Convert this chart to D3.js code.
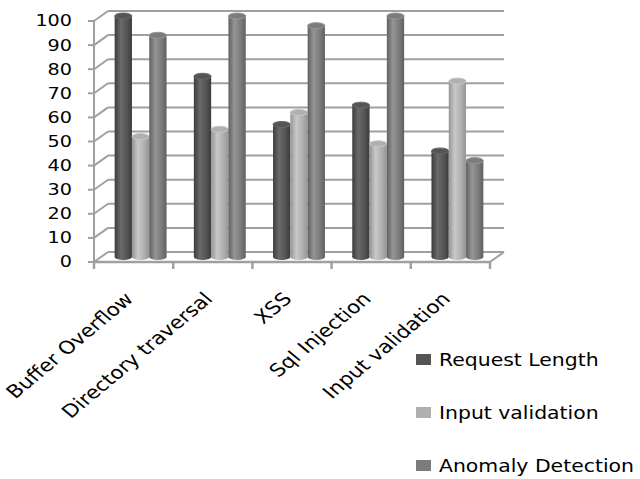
<!DOCTYPE html>
<html>
<head>
<meta charset="utf-8">
<script src="https://cdn.jsdelivr.net/npm/d3@7"></script>
<style>
  body { margin: 0; background: #fff; }
  text { font-family: "DejaVu Sans", sans-serif; fill: #000; }
</style>
</head>
<body>
<div id="chart"></div>
<script>
// chart values
var categories = ["Buffer Overflow", "Directory traversal", "XSS", "Sql Injection", "Input validation"];
var seriesNames = ["Request Length", "Input validation", "Anomaly Detection"];
var requestLength = [100, 75, 55, 63, 44];
var inputValidation = [50, 53, 60, 47, 73];
var anomalyDetection = [92, 100, 96, 100, 40];
var yTicks = [0, 10, 20, 30, 40, 50, 60, 70, 80, 90, 100];

(function () {
    "use strict";

    var vWidth = 640, vHeight = 479;
    var stretch = 1.2; // the picture is a bit wider than tall
    var depth = { dx: 14, dy: -10 };

    var series = [requestLength, inputValidation, anomalyDetection];
    var seriesColors = [
        { edge: "#3c3c3c", mid: "#555555", light: "#6a6a6a" },
        { edge: "#959595", mid: "#b0b0b0", light: "#c8c8c8" },
        { edge: "#606060", mid: "#7c7c7c", light: "#959595" }
    ];

    var svg = d3.select("#chart")
        .append("svg")
        .attr("width", vWidth)
        .attr("height", vHeight);

    // cylinder shading
    var defs = svg.append("defs");
    seriesColors.forEach(function (c, i) {
        var g = defs.append("linearGradient")
            .attr("id", "cyl" + i)
            .attr("x1", "0").attr("x2", "1").attr("y1", "0").attr("y2", "0");
        g.append("stop").attr("offset", "0%").attr("stop-color", c.edge);
        g.append("stop").attr("offset", "35%").attr("stop-color", c.light);
        g.append("stop").attr("offset", "70%").attr("stop-color", c.mid);
        g.append("stop").attr("offset", "100%").attr("stop-color", c.edge);
    });

    // front plane scales
    var xScale = d3.scaleBand()
        .domain(categories)
        .range([94, 490])
        .padding(0);
    var yFront = d3.scaleLinear()
        .domain([0, 100])
        .range([262, 21]);
    var yBack = function (v) { return yFront(v) + depth.dy; };
    var yMid = function (v) { return yFront(v) + depth.dy / 2; };

    var xInner = d3.scaleBand()
        .domain(d3.range(series.length))
        .range([0, xScale.bandwidth()])
        .paddingInner(0)
        .paddingOuter(0.79);

    var gridColor = "#a0a0a0";

    // back wall gridlines
    svg.append("g").selectAll("line")
        .data(yTicks)
        .enter()
        .append("line")
        .attr("x1", 94 + depth.dx)
        .attr("x2", 490 + depth.dx)
        .attr("y1", function (d) { return yBack(d); })
        .attr("y2", function (d) { return yBack(d); })
        .attr("stroke", gridColor)
        .attr("stroke-width", 2);

    // side wall diagonals
    svg.append("g").selectAll("line")
        .data(yTicks)
        .enter()
        .append("line")
        .attr("x1", 94)
        .attr("x2", 94 + depth.dx)
        .attr("y1", function (d) { return yFront(d); })
        .attr("y2", function (d) { return yBack(d); })
        .attr("stroke", gridColor)
        .attr("stroke-width", 2);

    // floor right edge
    svg.append("line")
        .attr("x1", 490).attr("y1", yFront(0))
        .attr("x2", 490 + depth.dx).attr("y2", yBack(0))
        .attr("stroke", gridColor)
        .attr("stroke-width", 2);

    // bars
    categories.forEach(function (cat, ci) {
        series.forEach(function (vals, si) {
            var x0 = xScale(cat) + xInner(si) + depth.dx / 2;
            var w = xInner.bandwidth();
            var top = yMid(vals[ci]);
            var base = yMid(0);
            var g = svg.append("g");
            var c = seriesColors[si];
            g.append("ellipse")
                .attr("cx", x0 + w / 2).attr("cy", base)
                .attr("rx", w / 2).attr("ry", 3)
                .attr("fill", "url(#cyl" + si + ")");
            g.append("rect")
                .attr("x", x0).attr("y", top)
                .attr("width", w).attr("height", base - top)
                .attr("fill", "url(#cyl" + si + ")");
            g.append("ellipse")
                .attr("cx", x0 + w / 2).attr("cy", top)
                .attr("rx", w / 2).attr("ry", 3)
                .attr("fill", c.mid)
                .attr("stroke", c.light)
                .attr("stroke-width", 1);
        });
    });

    // front axes
    svg.append("line")
        .attr("x1", 94).attr("x2", 94)
        .attr("y1", yFront(100)).attr("y2", yFront(0))
        .attr("stroke", gridColor).attr("stroke-width", 2);
    svg.append("line")
        .attr("x1", 93).attr("x2", 490)
        .attr("y1", yFront(0)).attr("y2", yFront(0))
        .attr("stroke", gridColor).attr("stroke-width", 2.5);

    svg.append("g").selectAll("line")
        .data(yTicks)
        .enter()
        .append("line")
        .attr("x1", 88).attr("x2", 94)
        .attr("y1", function (d) { return yFront(d); })
        .attr("y2", function (d) { return yFront(d); })
        .attr("stroke", gridColor).attr("stroke-width", 2);

    var xEdges = categories.map(function (c) { return xScale(c); }).concat([490]);
    svg.append("g").selectAll("line")
        .data(xEdges)
        .enter()
        .append("line")
        .attr("x1", function (d) { return d; })
        .attr("x2", function (d) { return d; })
        .attr("y1", yFront(0)).attr("y2", yFront(0) + 7)
        .attr("stroke", gridColor).attr("stroke-width", 2.5);

    // y tick labels
    svg.append("g").selectAll("text")
        .data(yTicks)
        .enter()
        .append("text")
        .attr("transform", function (d) {
            return "translate(72," + yFront(d) + ") scale(" + stretch + ",1)";
        })
        .attr("text-anchor", "end")
        .attr("dominant-baseline", "central")
        .style("font-size", "16px")
        .text(function (d) { return d; });

    // category labels
    svg.append("g").selectAll("text")
        .data(categories)
        .enter()
        .append("text")
        .attr("transform", function (d) {
            var cx = xScale(d) + xScale.bandwidth() / 2;
            return "translate(" + (cx + 1) + ",300) scale(" + stretch + ",1) rotate(-45)";
        })
        .attr("text-anchor", "end")
        .style("font-size", "18px")
        .text(function (d) { return d; });

    // legend
    var legend = svg.append("g").selectAll("g")
        .data(seriesNames)
        .enter()
        .append("g")
        .attr("transform", function (d, i) {
            return "translate(416," + (360 + i * 53) + ")";
        });
    legend.append("rect")
        .attr("x", 0).attr("y", -6)
        .attr("width", 15).attr("height", 11)
        .attr("fill", function (d, i) { return seriesColors[i].mid; });
    legend.append("text")
        .attr("transform", "translate(23,0) scale(" + stretch + ",1)")
        .attr("dominant-baseline", "central")
        .style("font-size", "17px")
        .text(function (d) { return d; });
})();
</script>
</body>
</html>
